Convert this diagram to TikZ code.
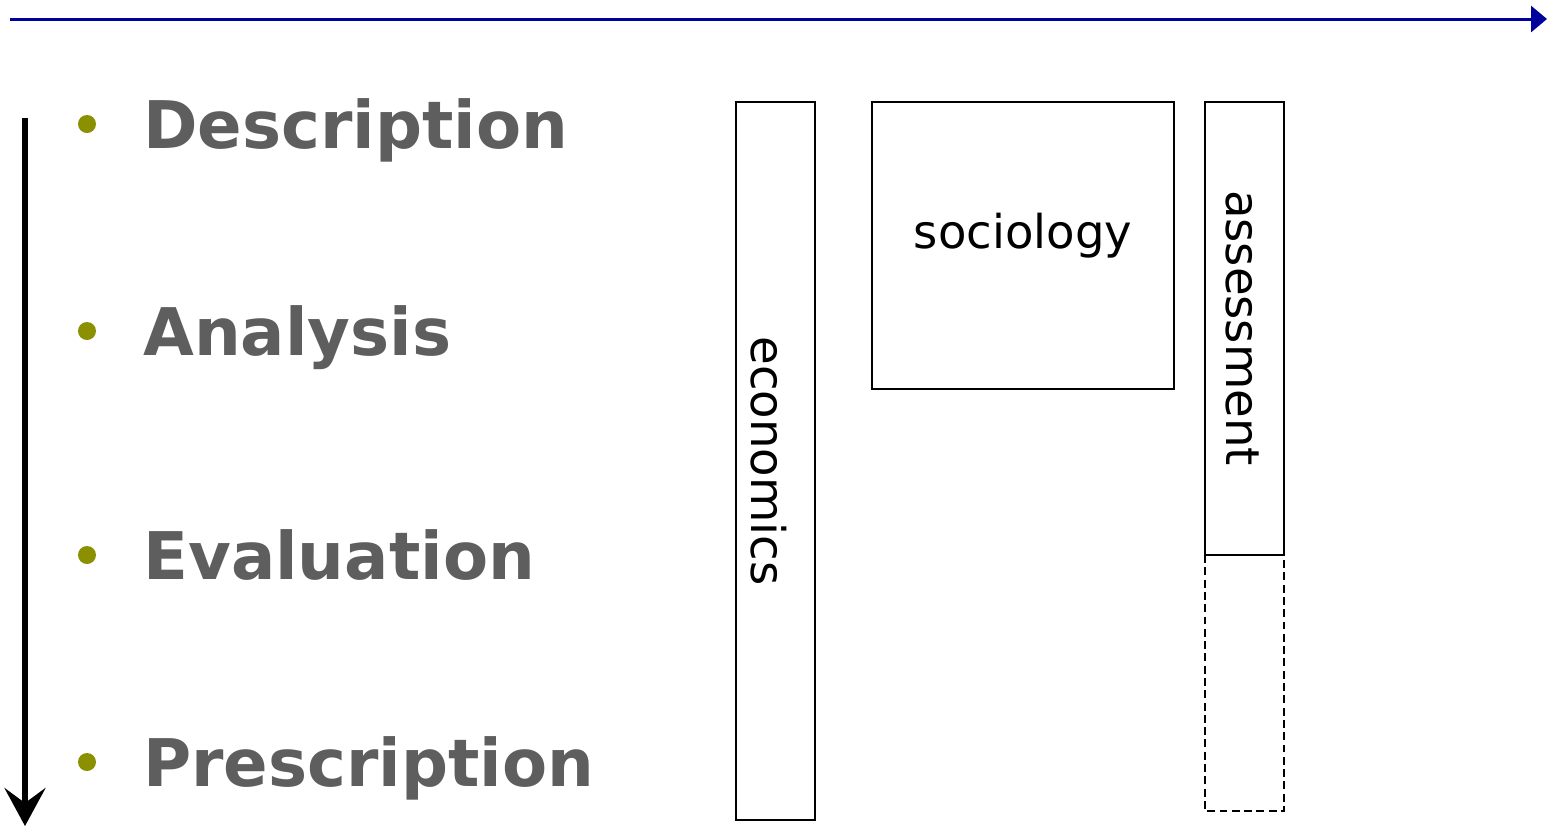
\documentclass[tikz,border=0pt]{standalone}
\usepackage{fontspec}
\setmainfont{DejaVu Sans}
\usepackage{tikz}
\usetikzlibrary{arrows.meta,positioning}
\usepackage{xcolor}
\definecolor{axis-blue}{HTML}{00009C}
\definecolor{bullet-olive}{HTML}{8A9000}
\definecolor{step-grey}{HTML}{5E5E5E}

\begin{document}
\begin{tikzpicture}[x=0.02cm, y=-0.02cm]
  \tikzstyle{stage}=[anchor=base west, inner sep=0pt, text=step-grey, font=\fontsize{37.4}{40}\selectfont\bfseries]
  \tikzstyle{dot}=[circle, fill=bullet-olive, inner sep=0pt, minimum size=0.36cm]
  \tikzstyle{field}=[inner sep=0pt, font=\fontsize{26.5}{28}\selectfont]
  \useasboundingbox (0,0) rectangle (1552,826);

  %% Axes
  \coordinate (tl) at (10,19);
  \coordinate (tr) at (1547,19);
  \coordinate (vt) at (25,118);
  \coordinate (vb) at (25,826);
  \draw[axis-blue, line width=1.7pt, -{Triangle[length=3.2mm, width=5.2mm]}] (tl) -- (tr);
  \draw[line width=3.6pt, -{Stealth[length=7.6mm, width=8.2mm, inset=3mm]}] (vt) -- (vb);

  %% Stages
  \node[stage] (desc) at (143,148) {Description};
  \node[stage] (anal) at (143,355) {Analysis};
  \node[stage] (eval) at (143,579) {Evaluation};
  \node[stage] (pres) at (143,786) {Prescription};
  \node[dot] at (87,124) {};
  \node[dot] at (87,331) {};
  \node[dot] at (87,555) {};
  \node[dot] at (87,762) {};

  %% Fields
  \draw[line width=1.1pt] (736,102) rectangle (815,820);
  \node[field, rotate=-90] (econ) at (769,461) {economics};
  \draw[line width=1.1pt] (872,102) rectangle (1174,389);
  \node[field] (soc) at (1023,236) {sociology};
  \draw[line width=1.1pt, dash pattern=on 4.5pt off 2.5pt] (1205,555) rectangle (1284,811);
  \draw[line width=1.1pt] (1205,102) rectangle (1284,555);
  \node[field, rotate=-90] (ass) at (1243,328) {assessment};
\end{tikzpicture}
\end{document}
